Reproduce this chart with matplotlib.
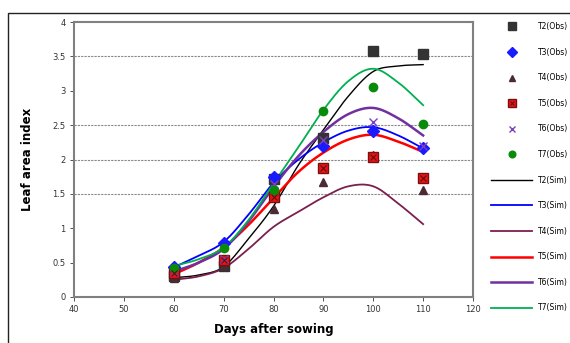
import numpy as np
import matplotlib
matplotlib.use("Agg")
import matplotlib.pyplot as plt
from matplotlib.patches import Rectangle
from matplotlib.lines import Line2D
from matplotlib.legend_handler import HandlerTuple

# ---- data ----
obs_days = [60, 70, 80, 90, 100, 110]
T2_obs = [0.30, 0.45, 1.72, 2.32, 3.58, 3.53]
T3_obs = [0.44, 0.79, 1.75, 2.20, 2.42, 2.17]
T4_obs = [0.28, 0.45, 1.28, 1.67, 2.07, 1.55]
T5_obs = [0.35, 0.54, 1.46, 1.87, 2.03, 1.73]
T6_obs = [0.36, 0.56, 1.65, 2.28, 2.55, 2.20]
T7_obs = [0.42, 0.72, 1.55, 2.70, 3.05, 2.52]

sim_days = [60, 65, 70, 75, 80, 85, 90, 95, 100, 105, 110]
T2_sim = [0.28, 0.32, 0.44, 0.85, 1.32, 1.92, 2.43, 2.92, 3.28, 3.36, 3.38]
T3_sim = [0.43, 0.60, 0.80, 1.20, 1.66, 2.00, 2.25, 2.42, 2.47, 2.35, 2.16]
T4_sim = [0.25, 0.30, 0.42, 0.70, 1.02, 1.24, 1.45, 1.61, 1.61, 1.36, 1.06]
T5_sim = [0.33, 0.50, 0.72, 1.05, 1.44, 1.82, 2.10, 2.29, 2.36, 2.26, 2.11]
T6_sim = [0.37, 0.50, 0.70, 1.10, 1.60, 2.05, 2.40, 2.66, 2.75, 2.60, 2.35]
T7_sim = [0.45, 0.55, 0.72, 1.12, 1.65, 2.18, 2.72, 3.14, 3.32, 3.12, 2.79]

x_ticks = [40, 50, 60, 70, 80, 90, 100, 110, 120]
y_ticks = [0, 0.5, 1, 1.5, 2, 2.5, 3, 3.5, 4]
y_ticklabels = ["0", "0.5", "1", "1.5", "2", "2.5", "3", "3.5", "4"]
grid_levels = [1.5, 2, 2.5, 3.5]

obs_labels = ["T2(Obs)", "T3(Obs)", "T4(Obs)", "T5(Obs)", "T6(Obs)", "T7(Obs)"]
sim_labels = ["T2(Sim)", "T3(Sim)", "T4(Sim)", "T5(Sim)", "T6(Sim)", "T7(Sim)"]


def smooth(xs, ys, n=20):
    """Excel-like smoothed line (Catmull-Rom) through the given points."""
    xs = np.asarray(xs, float)
    ys = np.asarray(ys, float)
    P = np.column_stack([xs, ys])
    P = np.vstack([P[0] - (P[1] - P[0]), P, P[-1] + (P[-1] - P[-2])])
    out = []
    for i in range(1, len(P) - 2):
        p0, p1, p2, p3 = P[i - 1], P[i], P[i + 1], P[i + 2]
        t = np.linspace(0, 1, n, endpoint=False)[:, None]
        seg = 0.5 * ((2 * p1) + (-p0 + p2) * t + (2 * p0 - 5 * p1 + 4 * p2 - p3) * t ** 2
                     + (-p0 + 3 * p1 - 3 * p2 + p3) * t ** 3)
        out.append(seg)
    out.append(P[-2][None, :])
    out = np.vstack(out)
    return out[:, 0], out[:, 1]


fig = plt.figure(figsize=(5.70, 3.43), dpi=100)
fig.patches.append(Rectangle((8 / 570, -0.05), 1.2, 1 - 13 / 343 + 0.05,
                             transform=fig.transFigure, fill=False,
                             edgecolor="#222222", linewidth=1.0))

ax = fig.add_axes([74 / 570, 46 / 343, 399 / 570, 275 / 343])
ax.set_xlim(40, 120)
ax.set_ylim(0, 4)

for g in grid_levels:
    ax.axhline(g, color="#888888", linestyle=(0, (2, 1)), linewidth=0.8, zorder=0)

sim_styles = [
    (T2_sim, "#000000", 1.0),
    (T3_sim, "#0000ff", 1.3),
    (T4_sim, "#7b1f4f", 1.3),
    (T5_sim, "#ff0000", 1.8),
    (T6_sim, "#7030a0", 1.8),
    (T7_sim, "#00b050", 1.3),
]
sim_handles = []
for (vals, col, lw), lab in zip(sim_styles, sim_labels):
    sx, sy = smooth(sim_days, vals)
    ax.plot(sx, sy, color=col, linewidth=lw, zorder=2)
    sim_handles.append(Line2D([], [], color=col, linewidth=lw))

obs_styles = [
    (T2_obs, "s", "#333333", "#333333", 6.5),
    (T3_obs, "D", "#1a1aff", "#1a1aff", 6.0),
    (T4_obs, "^", "#4a2a35", "#4a2a35", 6.0),
    (T5_obs, "s", "#ee1111", "#771111", 6.5),
    (T6_obs, "x", "#7b3fc0", "#7b3fc0", 5.5),
    (T7_obs, "o", "#0a8a0a", "#0a8a0a", 6.0),
]
obs_handles = []
for i, ((vals, m, fc, ec, ms), lab) in enumerate(zip(obs_styles, obs_labels)):
    ax.plot(obs_days, vals, linestyle="none", marker=m, markerfacecolor=fc,
            markeredgecolor=ec, markersize=ms, markeredgewidth=1.0, zorder=3)
    h = Line2D([], [], linestyle="none", marker=m, markerfacecolor=fc,
               markeredgecolor=ec, markersize=ms * 0.8)
    if i == 3:
        ax.plot(obs_days, vals, linestyle="none", marker="x", color="#551111",
                markersize=ms * 0.6, markeredgewidth=0.8, zorder=4)
        h = (h, Line2D([], [], linestyle="none", marker="x", color="#551111",
                       markersize=ms * 0.45, markeredgewidth=0.7))
    obs_handles.append(h)

ax.set_xticks(x_ticks)
ax.set_xticklabels([str(v) for v in x_ticks])
ax.set_yticks(y_ticks)
ax.set_yticklabels(y_ticklabels)
ax.tick_params(axis="both", labelsize=6, direction="out", length=3, width=0.6,
               colors="#333333", pad=3)
for s in ax.spines.values():
    s.set_color("#808080")
    s.set_linewidth(1.5)

ax.set_xlabel("Days after sowing", fontsize=8.5, fontweight="bold", labelpad=6)
ax.set_ylabel("Leaf area index", fontsize=8.5, fontweight="bold", labelpad=13)

leg = fig.legend(handles=obs_handles + sim_handles, labels=obs_labels + sim_labels,
                 handler_map={tuple: HandlerTuple(ndivide=1)},
                 loc="upper left", bbox_to_anchor=(488 / 570, 1 - 19 / 343),
                 frameon=False, fontsize=5.5, handlelength=5.4,
                 labelspacing=2.17, handletextpad=0.8, borderaxespad=0)

fig.savefig("out.png", dpi=100)
